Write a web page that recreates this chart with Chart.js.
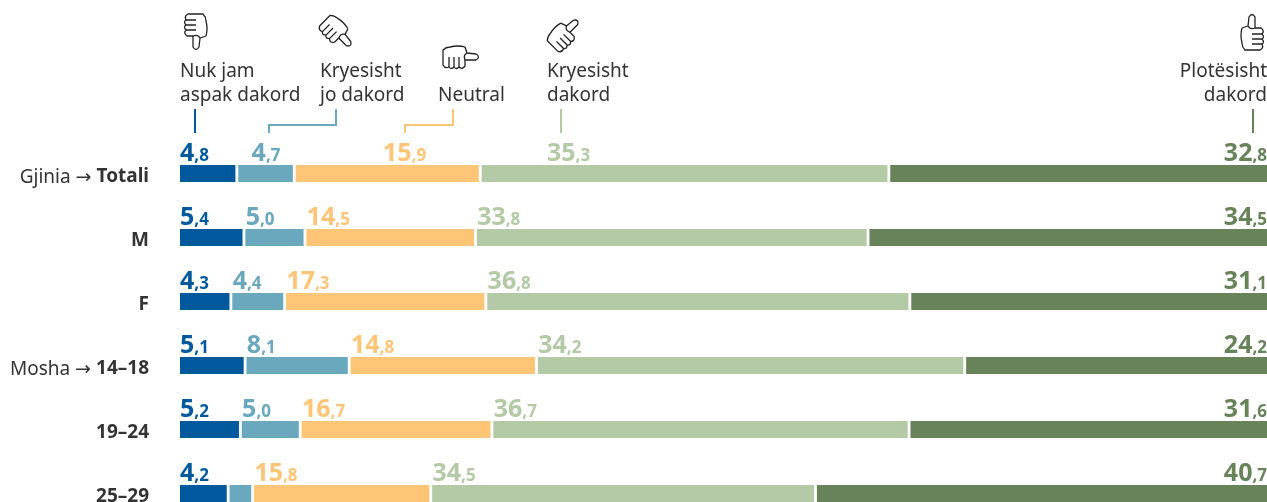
<!DOCTYPE html>
<html>
<head>
<meta charset="utf-8">
<script src="https://cdn.jsdelivr.net/npm/chart.js@4"></script>
<style>
  html, body { margin: 0; padding: 0; background: #fff; overflow: hidden; height: 502px; }
  #wrap { position: relative; width: 1267px; height: 568px; }
  canvas { display: block; }
</style>
</head>
<body>
<div id="wrap"><canvas id="chart"></canvas></div>
<script>
// Row labels
const rowLabels = ['Totali', 'M', 'F', '14–18', '19–24', '25–29'];
const rowPrefixes = ['Gjinia →', '', '', 'Mosha →', '', ''];

// Answers (the 1,9 is unlabelled there, estimated from its width)
const seriesNames = ['Nuk jam aspak dakord', 'Kryesisht jo dakord', 'Neutral', 'Kryesisht dakord', 'Plotësisht dakord'];
const stronglyDisagree = [4.8, 5.4, 4.3, 5.1, 5.2, 4.2];
const mostlyDisagree   = [4.7, 5.0, 4.4, 8.1, 5.0, 1.9];
const neutral          = [15.9, 14.5, 17.3, 14.8, 16.7, 15.8];
const mostlyAgree      = [35.3, 33.8, 36.8, 34.2, 36.7, 34.5];
const stronglyAgree    = [32.8, 34.5, 31.1, 24.2, 31.6, 40.7];

const allSeries = [stronglyDisagree, mostlyDisagree, neutral, mostlyAgree, stronglyAgree];
const colors = ['#00599c', '#69a8bd', '#fec576', '#b4c9a5', '#68825a'];

const FONT = '"Noto Sans", "DejaVu Sans", sans-serif';
const TEXT = '#333333';

// every row fills the full width. the coloured part is proportional to the value,
// and the white gaps come on top of it, so each segment gets its share of the gaps too
const GAP_PX = 3.5;
const GAP = GAP_PX / 1087 * 100;
const rowTotals = rowLabels.map((_, i) => allSeries.reduce((sum, s) => sum + s[i], 0));
const shares = allSeries.map((s, n) => s.map((v, i) => {
  const edge = n === 0 || n === allSeries.length - 1;
  return v / rowTotals[i] * (100 - 4 * GAP) + (edge ? GAP / 2 : GAP);
}));

// top row labels sit further right to clear the leader lines
const topRowShift = [0, 13, 87, 65, 0];

// header: legend text, hands and leader lines
const headerPlugin = {
  id: 'header',
  afterDraw(chart) {
    const ctx = chart.ctx;
    ctx.save();
    ctx.fillStyle = TEXT;
    ctx.font = '19px ' + FONT;
    ctx.textBaseline = 'alphabetic';
    ctx.textAlign = 'left';
    ctx.fillText('Nuk jam', 180, 77);
    ctx.fillText('aspak dakord', 180, 101);
    ctx.fillText('Kryesisht', 320, 77);
    ctx.fillText('jo dakord', 320, 101);
    ctx.fillText('Neutral', 438, 101);
    ctx.fillText('Kryesisht', 547, 77);
    ctx.fillText('dakord', 547, 101);
    ctx.textAlign = 'right';
    ctx.fillText('Plotësisht', 1267, 77);
    ctx.fillText('dakord', 1267, 101);

    drawLeader(ctx, colors[0], [[195, 109], [195, 133]]);
    drawLeader(ctx, colors[1], [[336, 109], [336, 125], [269, 125], [269, 133]]);
    drawLeader(ctx, colors[2], [[453, 109], [453, 125], [405, 125], [405, 133]]);
    drawLeader(ctx, colors[3], [[561, 109], [561, 133]]);
    drawLeader(ctx, colors[4], [[1253, 109], [1253, 133]]);

    drawHand(ctx, 196, 32, 180);
    drawHand(ctx, 338, 33, 135);
    drawHand(ctx, 461, 57, 90);
    drawHand(ctx, 565, 33, 45);
    drawHand(ctx, 1252, 32, 0);
    ctx.restore();
  }
};

function drawLeader(ctx, color, pts) {
  ctx.strokeStyle = color;
  ctx.lineWidth = 2;
  ctx.beginPath();
  pts.forEach((p, i) => i ? ctx.lineTo(p[0], p[1]) : ctx.moveTo(p[0], p[1]));
  ctx.stroke();
}

// outline of a thumbs-up, rotated in degrees
function drawHand(ctx, x, y, deg) {
  ctx.save();
  ctx.translate(x, y);
  ctx.rotate(deg * Math.PI / 180);
  ctx.strokeStyle = '#222';
  ctx.lineWidth = 1.3;
  ctx.lineJoin = 'round';
  ctx.beginPath();
  ctx.moveTo(-10, -4);
  ctx.lineTo(-4, -6);
  ctx.lineTo(-3, -15);
  ctx.quadraticCurveTo(0, -20, 3, -15);
  ctx.lineTo(3, -4);
  ctx.lineTo(9, -4);
  ctx.quadraticCurveTo(13, -1, 10, 2);
  ctx.quadraticCurveTo(13, 5, 10, 7);
  ctx.quadraticCurveTo(13, 10, 10, 12);
  ctx.quadraticCurveTo(12, 16, 8, 18);
  ctx.lineTo(-7, 18);
  ctx.quadraticCurveTo(-10, 15, -10, 11);
  ctx.quadraticCurveTo(-12, 3, -10, -4);
  ctx.stroke();
  ctx.beginPath();
  ctx.moveTo(0, 2); ctx.lineTo(10, 2);
  ctx.moveTo(0, 7); ctx.lineTo(10, 7);
  ctx.moveTo(0, 12); ctx.lineTo(10, 12);
  ctx.moveTo(-4, -6); ctx.quadraticCurveTo(-2, -2, 3, -4);
  ctx.stroke();
  ctx.restore();
}

// value labels: big whole part, small decimal part
const valueLabelPlugin = {
  id: 'valueLabels',
  afterDatasetsDraw(chart) {
    const ctx = chart.ctx;
    const bold = size => 'bold ' + size + 'px ' + FONT;
    ctx.save();
    ctx.textBaseline = 'alphabetic';
    allSeries.forEach((series, s) => {
      const meta = chart.getDatasetMeta(s);
      series.forEach((value, r) => {
        if (value < 3) return; // too thin to carry a label
        const bar = meta.data[r];
        const [whole, dec] = value.toFixed(1).split('.');
        const small = ',' + dec;
        const baseline = bar.y - 12.5;
        ctx.fillStyle = colors[s];
        ctx.font = bold(25);
        const bigW = ctx.measureText(whole).width;
        ctx.font = bold(17);
        const smallW = ctx.measureText(small).width;
        let x;
        if (s === allSeries.length - 1) {
          x = chart.scales.x.right - bigW - smallW;
        } else {
          x = bar.base + (s ? GAP_PX / 2 : 0) + (r === 0 ? topRowShift[s] : 0);
        }
        ctx.textAlign = 'left';
        ctx.font = bold(25);
        ctx.fillText(whole, x, baseline);
        ctx.font = bold(17);
        ctx.fillText(small, x + bigW, baseline);
      });
    });
    // regular-weight prefix left of the bold row label
    const yScale = chart.scales.y;
    ctx.textAlign = 'right';
    rowPrefixes.forEach((prefix, r) => {
      if (!prefix) return;
      ctx.font = 'bold 19px ' + FONT;
      const w = ctx.measureText(rowLabels[r]).width;
      ctx.font = '19px ' + FONT;
      ctx.fillStyle = TEXT;
      ctx.fillText(prefix, 149 - w - 5, yScale.getPixelForValue(r) + 9);
    });
    ctx.restore();
  }
};

new Chart(document.getElementById('chart'), {
  type: 'bar',
  data: {
    labels: rowLabels,
    datasets: shares.map((data, s) => ({
      label: seriesNames[s],
      data: data,
      backgroundColor: colors[s],
      borderColor: '#ffffff',
      borderSkipped: false,
      borderWidth: {
        top: 0,
        bottom: 0,
        left: s === 0 ? 0 : GAP_PX / 2,
        right: s === shares.length - 1 ? 0 : GAP_PX / 2
      },
      barThickness: 17
    }))
  },
  options: {
    indexAxis: 'y',
    responsive: true,
    maintainAspectRatio: false,
    animation: false,
    layout: { padding: { top: 141.5, left: 0, right: 0, bottom: 0 } },
    plugins: { legend: { display: false }, tooltip: { enabled: false } },
    scales: {
      x: { stacked: true, min: 0, max: 100, display: false },
      y: {
        stacked: true,
        afterFit(scale) { scale.width = 180; },
        grid: { display: false, drawTicks: false },
        border: { display: false },
        ticks: {
          color: TEXT,
          padding: 31,
          labelOffset: 3,
          font: { family: FONT, size: 19, weight: 'bold' }
        }
      }
    }
  },
  plugins: [valueLabelPlugin, headerPlugin]
});
</script>
</body>
</html>
